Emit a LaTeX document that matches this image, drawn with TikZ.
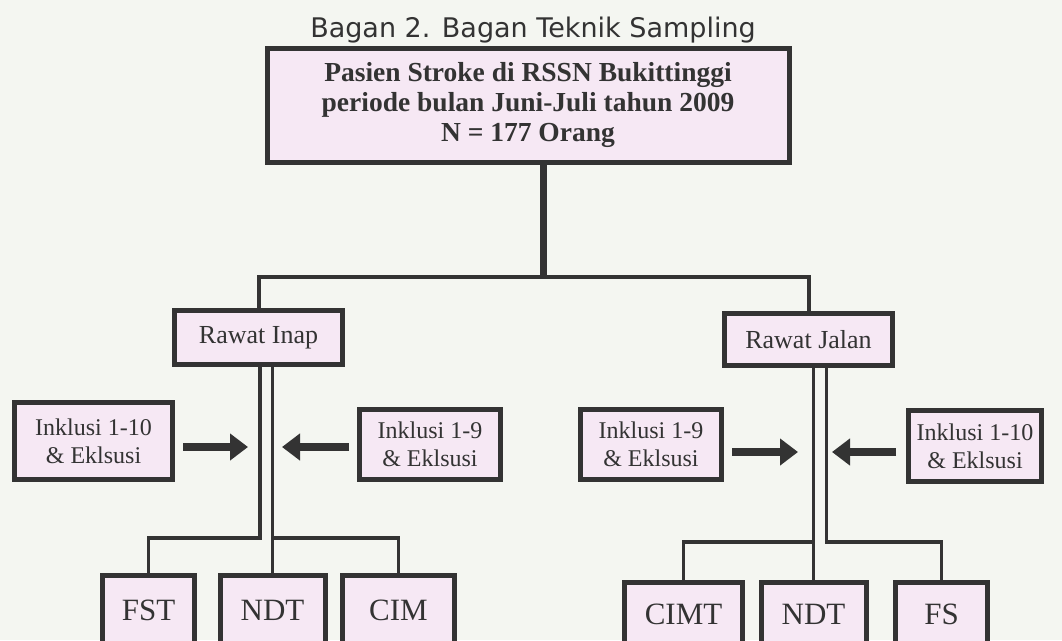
\documentclass[tikz,border=0pt]{standalone}
\usepackage{fontspec}
\setmainfont{Liberation Serif}
\newfontfamily\titlefont{DejaVu Sans}
\usepackage{xcolor}
\usetikzlibrary{arrows.meta,calc}

\definecolor{paper}{HTML}{F4F6F1}
\definecolor{boxfill}{HTML}{F6E8F4}
\definecolor{ink}{HTML}{333333}

\begin{document}
\begin{tikzpicture}[x=1pt,y=-1pt,
    box/.style={draw=ink, fill=boxfill, line width=5pt, align=center, inner sep=0pt, text=ink},
    conn/.style={draw=ink, line width=4pt},
    push/.style={draw=ink, line width=8pt, -{Triangle[length=18pt,width=26pt]}}]
    % Page
    \fill[paper] (0,0) rectangle (1062,640);
    \useasboundingbox (0,0) rectangle (1062,640);
    \clip (0,0) rectangle (1062,640);

    % Title and top box
    \node[text=ink, font=\titlefont\fontsize{27}{32}\selectfont] (title) at (533,30) {Bagan 2. Bagan Teknik Sampling};
    \node[box, minimum width=522, minimum height=114, font=\fontsize{27.5}{30}\selectfont\bfseries] (top) at (528,105)
        {Pasien Stroke di RSSN Bukittinggi\\periode bulan Juni-Juli tahun 2009\\N = 177 Orang};

    % Second level
    \node[box, minimum width=168, minimum height=54, font=\fontsize{26}{30}\selectfont] (inap) at (258.5,337.5) {Rawat Inap};
    \node[box, minimum width=168, minimum height=52, font=\fontsize{26}{30}\selectfont] (jalan) at (808.5,339.5) {Rawat Jalan};

    % Inclusion boxes
    \node[box, minimum width=158, minimum height=77, font=\fontsize{24}{28}\selectfont] (incA) at (93.5,441) {Inklusi 1-10\\\& Eklsusi};
    \node[box, minimum width=141, minimum height=70, font=\fontsize{24}{28}\selectfont] (incB) at (430,444) {Inklusi 1-9\\\& Eklsusi};
    \node[box, minimum width=141, minimum height=70, font=\fontsize{24}{28}\selectfont] (incC) at (651,444) {Inklusi 1-9\\\& Eklsusi};
    \node[box, minimum width=133, minimum height=71, font=\fontsize{24}{28}\selectfont] (incD) at (975,446) {Inklusi 1-10\\\& Eklsusi};

    % Methods
    \node[box, minimum width=92, minimum height=70, font=\fontsize{31}{36}\selectfont] (fst) at (148.5,610) {FST};
    \node[box, minimum width=105, minimum height=70, font=\fontsize{31}{36}\selectfont] (ndtL) at (272.5,610) {NDT};
    \node[box, minimum width=112, minimum height=70, font=\fontsize{31}{36}\selectfont] (cim) at (398.5,610) {CIM};
    \node[box, minimum width=118, minimum height=64, font=\fontsize{31}{36}\selectfont] (cimt) at (683.5,614) {CIMT};
    \node[box, minimum width=105, minimum height=64, font=\fontsize{31}{36}\selectfont] (ndtR) at (813.5,614) {NDT};
    \node[box, minimum width=92, minimum height=64, font=\fontsize{31}{36}\selectfont] (fs) at (941.5,614) {FS};

    % Trunk and bar
    \coordinate (bar) at (543,277);
    \draw[conn, line width=7pt] (top.south -| bar) -- (bar);
    \draw[conn] (inap.north) |- (bar) -| (jalan.north);

    % Double lines, left
    \draw[conn, line width=3.5pt] ([xshift=1.5pt]inap.south) -- ++(0,171) -| (fst.north);
    \draw[conn, line width=3.5pt] ([xshift=14pt]inap.south) -- (ndtL.north);
    \draw[conn, line width=3.5pt] ([xshift=14pt]inap.south) ++(0,171) -| (cim.north);

    % Double lines, right
    \draw[conn, line width=3.5pt] ([xshift=5pt]jalan.south) -- (ndtR.north);
    \draw[conn, line width=3.5pt] ([xshift=5pt]jalan.south) ++(0,174) -| (cimt.north);
    \draw[conn, line width=3.5pt] ([xshift=18pt]jalan.south) -- ++(0,174) -| (fs.north);

    % Arrows
    \coordinate (tipA) at (248,447);
    \coordinate (tipB) at (282,447);
    \coordinate (tipC) at (798,452);
    \coordinate (tipD) at (832,452);
    \draw[push] ([xshift=8pt]incA.east |- tipA) -- (tipA);
    \draw[push] ([xshift=-8pt]incB.west |- tipB) -- (tipB);
    \draw[push] ([xshift=8pt]incC.east |- tipC) -- (tipC);
    \draw[push] ([xshift=-10pt]incD.west |- tipD) -- (tipD);
\end{tikzpicture}
\end{document}
